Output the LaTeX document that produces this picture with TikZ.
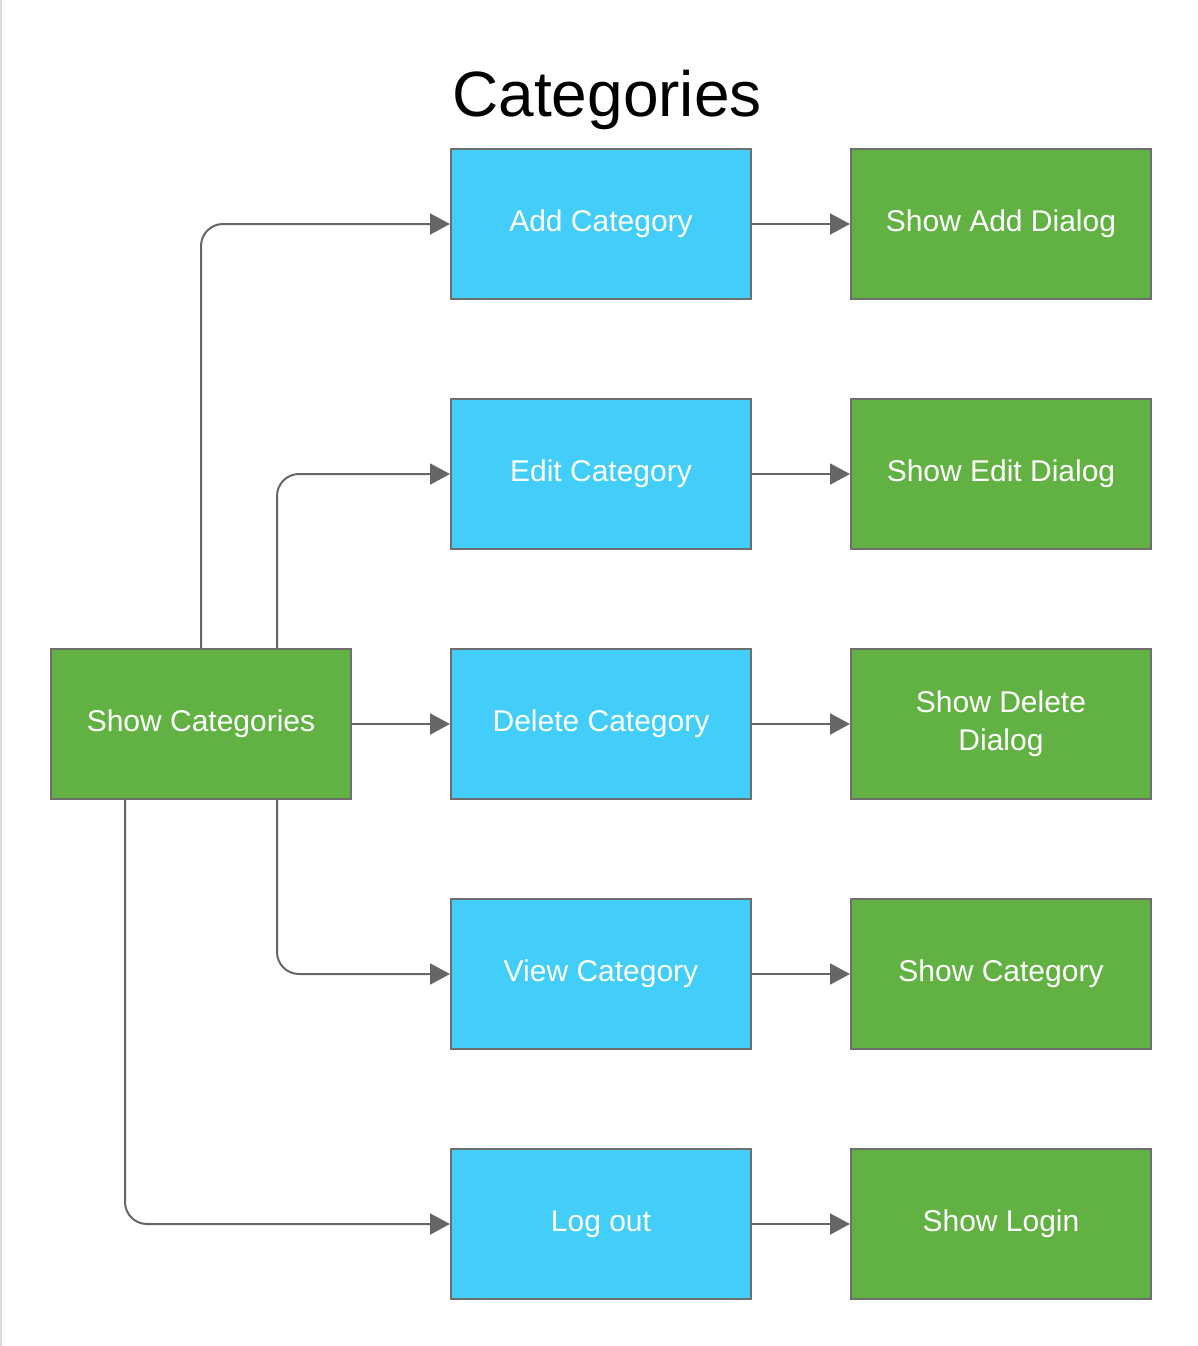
\documentclass[tikz,border=0pt]{standalone}
\usepackage{fontspec}
\setmainfont{Liberation Sans}
\usetikzlibrary{positioning,arrows.meta,calc}
\definecolor{actionblue}{HTML}{42CEF8}
\definecolor{screengreen}{HTML}{62B243}
\definecolor{boxline}{HTML}{6E6E6E}
\definecolor{linkgray}{HTML}{666666}
\definecolor{edgegray}{HTML}{DDDDDD}

\begin{document}
\begin{tikzpicture}[%
  x=0.5pt,y=-0.5pt,
  box/.style={rectangle,draw=boxline,line width=1pt,minimum width=150pt,
    minimum height=75pt,inner sep=0pt,text=white,align=center,
    font=\fontsize{15}{19}\selectfont},
  action/.style={box,fill=actionblue},
  screen/.style={box,fill=screengreen},
  link/.style={draw=linkgray,line width=1pt,rounded corners=11pt,
    -{Triangle[length=10pt,width=10.5pt]}},
  node distance=49pt]
    % Frame
    \useasboundingbox (0,0) rectangle (1198,1346);
    \draw[edgegray,line width=1pt] (0.5,0) -- (0.5,1346);
    % Title
    \node[anchor=base,font=\fontsize{32}{38}\selectfont] (title) at (607,116) {Categories};
    % Start screen
    \node[screen] (showcats) at (201,724) {Show Categories};
    % Actions
    \node[action] (addcat) at (601,224) {Add Category};
    \node[action,below=of addcat] (editcat) {Edit Category};
    \node[action,below=of editcat] (delcat) {Delete Category};
    \node[action,below=of delcat] (viewcat) {View Category};
    \node[action,below=of viewcat] (logout) {Log out};
    % Resulting screens
    \node[screen,right=of addcat] (showadd) {Show Add Dialog};
    \node[screen,right=of editcat] (showedit) {Show Edit Dialog};
    \node[screen,right=of delcat] (showdel) {Show Delete\\Dialog};
    \node[screen,right=of viewcat] (showcat) {Show Category};
    \node[screen,right=of logout] (showlogin) {Show Login};
    % Links from the start screen
    \draw[link] (showcats.north) |- (addcat.west);
    \draw[link] ([xshift=-37.5pt]showcats.north east) |- (editcat.west);
    \draw[link] (showcats.east) -- (delcat.west);
    \draw[link] ([xshift=-37.5pt]showcats.south east) |- (viewcat.west);
    \draw[link] ([xshift=37.5pt]showcats.south west) |- (logout.west);
    % Links to the screens
    \draw[link] (addcat.east) -- (showadd.west);
    \draw[link] (editcat.east) -- (showedit.west);
    \draw[link] (delcat.east) -- (showdel.west);
    \draw[link] (viewcat.east) -- (showcat.west);
    \draw[link] (logout.east) -- (showlogin.west);
\end{tikzpicture}
\end{document}
